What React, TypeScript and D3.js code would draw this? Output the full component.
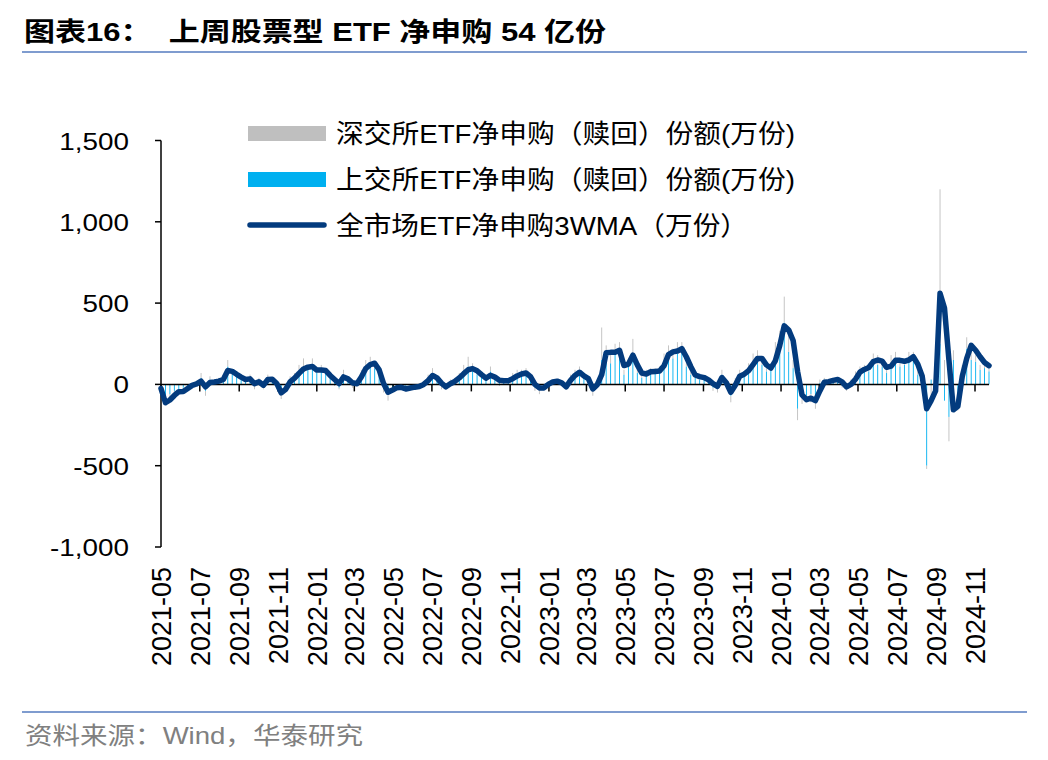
import React from 'react';
import * as d3 from 'd3';

// weekly data, first week ending 2021-05-07
const FIRST_WEEK = '2021-05-07';

const xTickLabels = [
  '2021-05', '2021-07', '2021-09', '2021-11',
  '2022-01', '2022-03', '2022-05', '2022-07', '2022-09', '2022-11',
  '2023-01', '2023-03', '2023-05', '2023-07', '2023-09', '2023-11',
  '2024-01', '2024-03', '2024-05', '2024-07', '2024-09', '2024-11',
];

const yTicks = [-1000, -500, 0, 500, 1000, 1500];

// 上交所 ETF 净申购（赎回）份额, 万份
const shValues = [
  -30, -80, -60, -40, -30, -20, -10, 10, 5, 40,
  -40, 30, 20, 10, 40, 110, 60, 50, 30, 20,
  40, -10, 30, -20, 40, 30, 10, -60, -20, 20,
  50, 80, 100, 90, 120, 70, 90, 80, 40, 20,
  -20, 60, 30, 10, -10, 60, 110, 120, 100, 60,
  -30, -60, -20, -10, -20, -30, -10, -20, 0, 10,
  40, 70, 20, -10, -20, 20, 30, 50, 70, 110,
  90, 60, 40, 30, 80, 30, 20, 10, 30, 40,
  60, 70, 60, 30, -20, -30, -10, 10, 20, 10,
  -10, -20, 40, 60, 70, 40, 20, -40, 10, 150,
  180, 130, 200, 170, 60, 120, 160, 70, 40, 60,
  80, 70, 90, 140, 180, 160, 190, 200, 110, 60,
  40, 30, 40, 10, -20, -30, 60, -10, -70, 20,
  60, 50, 90, 130, 150, 120, 80, 100, 170, 250,
  380, 200, 100, -150, -80, -70, -60, -90, 10, 30,
  20, 30, 20, -10, -20, 20, 50, 70, 90, 80,
  150, 120, 110, 70, 130, 150, 110, 120, 140, 160,
  60, 40, -500, 30, 120, 250, -100, -200, 150, -100,
  80, 220, 150, 140, 90, 100, 80,
];

// 深交所 ETF 净申购（赎回）份额, 万份
const szValues = [
  -10, -40, -30, -20, -20, -10, -15, -20, 10, 30,
  -30, 20, 10, 30, 20, 40, 30, 20, 30, 10,
  20, -20, 10, -10, 20, 10, -10, -30, -20, 30,
  20, 40, 60, 30, 40, 20, 30, 20, 10, -10,
  -10, 30, 10, -20, 10, 30, 40, 50, 40, 10,
  -20, -40, -20, -10, -10, -10, -20, -10, -20, 10,
  20, 30, 10, -20, -10, 10, 10, 20, 50, 60,
  40, 20, 30, 10, 30, 20, -10, 20, 10, 30,
  30, 20, 40, 10, -20, -30, -20, 10, 10, 20,
  10, -10, 20, 30, 40, 30, 10, -30, -10, 200,
  60, 80, 50, 90, 30, 40, 120, 30, 20, 30,
  20, 30, 20, 50, 60, 60, 70, 60, 20, 20,
  20, 20, 20, 10, -20, -20, 30, -20, -40, 20,
  30, 20, 40, 60, 60, 50, 20, 30, 90, 80,
  160, 100, 50, -70, -40, -30, -50, -60, 20, 10,
  10, 10, 20, -10, -20, 10, 30, 40, 30, 40,
  40, 60, 30, 20, 50, 50, 30, 30, 60, 40,
  20, 20, -20, -80, 100, 950, 150, -150, 60, -60,
  40, 70, 60, 40, 30, 20, 40,
];

// 全市场 ETF 净申购 3WMA, 万份
const wma3Values = [
  -25, -113, -96, -68, -45, -44, -25, -6, 3, 20,
  -15, 12, 15, 20, 30, 85, 80, 62, 45, 30,
  34, 5, 16, -5, 30, 32, 6, -52, -30, 15,
  38, 68, 95, 106, 110, 88, 88, 85, 55, 30,
  5, 46, 34, 10, 4, 45, 98, 122, 130, 90,
  5, -48, -35, -20, -18, -28, -22, -17, -13, 0,
  23, 55, 40, 8, -15, 4, 18, 40, 66, 90,
  97, 84, 60, 38, 56, 45, 25, 22, 23, 35,
  52, 64, 70, 48, 0, -22, -22, 0, 15, 20,
  10, -15, 25, 55, 75, 52, 35, -28, -2, 60,
  194, 197, 198, 210, 116, 125, 180, 120, 70, 64,
  78, 80, 82, 115, 183, 200, 205, 220, 170, 110,
  58, 48, 42, 28, 5, -12, 42, 10, -48, -5,
  50, 63, 85, 122, 160, 160, 120, 100, 145, 240,
  360, 335, 270, 80, -65, -94, -85, -100, -40, 13,
  17, 25, 30, 15, -15, 0, 32, 75, 92, 104,
  140, 150, 143, 105, 112, 148, 148, 142, 150, 170,
  125, 50, -150, -100, -40, 560, 470, 150, -156, -135,
  50, 160, 240, 210, 170, 135, 115,
];

const FONT = '"Liberation Sans", Arial, "Noto Sans CJK SC", sans-serif';
const SH_COLOR = '#00b0f0';
const SZ_COLOR = '#bfbfbf';
const LINE_COLOR = '#033b7e';

const plot = { left: 161, right: 989, top: 140.5, bottom: 547 };

export default function App() {
  const parse = d3.timeParse('%Y-%m-%d');
  const start = parse(FIRST_WEEK) as Date;
  const dates = wma3Values.map((_, i) => d3.timeDay.offset(start, 7 * i));

  const x = d3.scaleTime()
    .domain([dates[0], dates[dates.length - 1]])
    .range([plot.left, plot.right]);
  const y = d3.scaleLinear().domain([-1000, 1500]).range([plot.bottom, plot.top]);

  const rows = dates.map((d, i) => ({ date: d, sh: shValues[i], sz: szValues[i] }));
  const stacked = d3.stack<any>().keys(['sh', 'sz']).offset(d3.stackOffsetDiverging)(rows);

  const line = d3.line<number>()
    .x((_, i) => x(dates[i]))
    .y(v => y(v));

  const tickDates = xTickLabels.map(l => parse(`${l}-07`) as Date);
  // excel style: plain hyphen for negatives
  const fmtY = (v: number) => d3.format(',')(v).replace('\u2212', '-');
  const barW = 0.9;

  return (
    <svg width={1048} height={760} style={{ position: 'absolute', left: 0, top: 0, background: '#fff' }}
      fontFamily={FONT}>
      {/* title */}
      <text x={24} y={41} fontSize={26} fontWeight="bold" fill="#000" textLength={582}
        lengthAdjust="spacingAndGlyphs" style={{ whiteSpace: 'pre' }}>
        {'图表16：  上周股票型 ETF 净申购 54 亿份'}
      </text>
      <line x1={22} x2={1027} y1={52} y2={52} stroke="#7f9ccf" strokeWidth={2} />

      {/* bars */}
      {stacked.map((s, k) => (
        <g key={k} fill={k === 0 ? SH_COLOR : SZ_COLOR}>
          {s.map((d, i) => (
            <rect key={i} x={x(dates[i]) - barW / 2} width={barW}
              y={y(Math.max(d[0], d[1]))} height={Math.abs(y(d[0]) - y(d[1]))} />
          ))}
        </g>
      ))}

      {/* y axis */}
      <line x1={plot.left} x2={plot.left} y1={plot.top} y2={plot.bottom} stroke="#000" strokeWidth={1.5} />
      {yTicks.map(t => (
        <g key={t}>
          <line x1={plot.left - 6} x2={plot.left} y1={y(t)} y2={y(t)} stroke="#000" strokeWidth={1.5} />
          <text transform={`translate(129,${y(t) + 9}) scale(1.16,1)`} textAnchor="end" fontSize={24} fill="#000">
            {fmtY(t)}
          </text>
        </g>
      ))}

      {/* x axis on zero */}
      <line x1={plot.left} x2={plot.right} y1={y(0)} y2={y(0)} stroke="#000" strokeWidth={1.5} />
      {tickDates.map((d, i) => (
        <g key={i}>
          <line x1={x(d)} x2={x(d)} y1={y(0)} y2={y(0) + 7} stroke="#000" strokeWidth={1.5} />
          <text transform={`translate(${x(d) + 10},567) rotate(-90)`} textAnchor="end" fontSize={27} fill="#000">
            {xTickLabels[i]}
          </text>
        </g>
      ))}

      {/* 3WMA line */}
      <path d={line(wma3Values) || ''} fill="none" stroke={LINE_COLOR} strokeWidth={5.5}
        strokeLinejoin="round" strokeLinecap="round" />

      {/* legend */}
      <rect x={248} y={126} width={78} height={15} fill={SZ_COLOR} />
      <text x={336} y={143} fontSize={26} fill="#000" textLength={459} lengthAdjust="spacingAndGlyphs">
        深交所ETF净申购（赎回）份额(万份)
      </text>
      <rect x={248} y={172} width={78} height={15} fill={SH_COLOR} />
      <text x={336} y={189} fontSize={26} fill="#000" textLength={459} lengthAdjust="spacingAndGlyphs">
        上交所ETF净申购（赎回）份额(万份)
      </text>
      <line x1={250} x2={324} y1={225} y2={225} stroke={LINE_COLOR} strokeWidth={5.5} strokeLinecap="round" />
      <text x={336} y={235} fontSize={26} fill="#000" textLength={412} lengthAdjust="spacingAndGlyphs">
        全市场ETF净申购3WMA（万份）
      </text>

      {/* footer */}
      <line x1={22} x2={1027} y1={712} y2={712} stroke="#7f9ccf" strokeWidth={2} />
      <text x={25} y={744} fontSize={24} fill="#808080" textLength={338} lengthAdjust="spacingAndGlyphs">
        资料来源：Wind，华泰研究
      </text>
    </svg>
  );
}
